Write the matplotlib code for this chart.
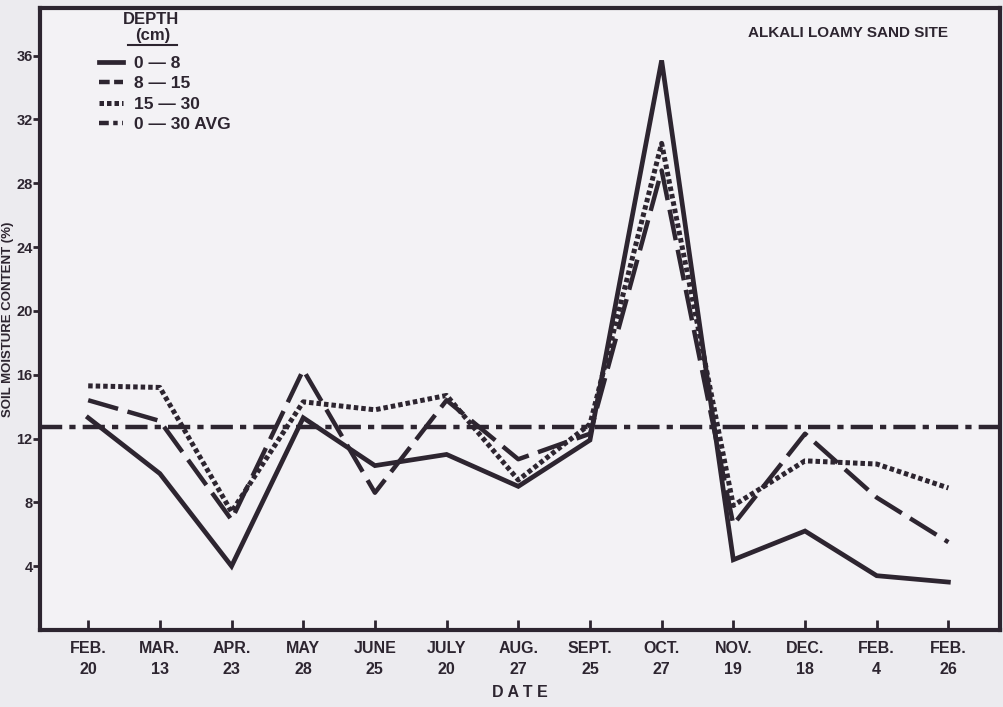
import matplotlib.pyplot as plt
import numpy as np

# sampling dates
dates = ["FEB.\n20", "MAR.\n13", "APR.\n23", "MAY\n28", "JUNE\n25", "JULY\n20", "AUG.\n27",
         "SEPT.\n25", "OCT.\n27", "NOV.\n19", "DEC.\n18", "FEB.\n4", "FEB.\n26"]

# soil moisture content (%) by depth
depth_0_8 = [13.3, 9.8, 4.0, 13.3, 10.3, 11.0, 9.0, 11.9, 35.7, 4.4, 6.2, 3.4, 3.0]
depth_8_15 = [14.4, 13.1, 6.9, 16.3, 8.6, 14.4, 10.7, 12.3, 28.8, 6.6, 12.3, 8.3, 5.5]
depth_15_30 = [15.3, 15.2, 7.4, 14.3, 13.8, 14.7, 9.4, 12.9, 30.5, 7.8, 10.6, 10.4, 8.9]
avg_0_30 = 12.7

ink = '#2d2530'
paper = '#ecebef'


def main():
    plt.rcParams['font.family'] = ['Liberation Sans Narrow', 'Liberation Sans', 'DejaVu Sans']
    plt.rcParams['font.weight'] = 'bold'

    fig = plt.figure(figsize=(10.04, 7.07), dpi=100, facecolor=paper)
    ax = fig.add_axes([0.040, 0.109, 0.956, 0.880], facecolor='#f3f2f5')

    x = np.arange(len(dates))
    ax.plot(x, depth_0_8, color=ink, lw=3.4, solid_joinstyle='miter', label="0 \u2014 8")
    ax.plot(x, depth_8_15, color=ink, lw=3.2, dashes=(7, 2.2), label="8 \u2014 15")
    ax.plot(x, depth_15_30, color=ink, lw=3.6, dashes=(0.9, 0.6), label="15 \u2014 30")
    ax.axhline(avg_0_30, color=ink, lw=3.2, dashes=(5, 1.6, 1.4, 1.6), label="0 \u2014 30 AVG")

    ax.set_xlim(-0.67, 12.72)
    ax.set_ylim(0, 39)
    ax.set_xticks(x)
    ax.set_xticklabels(dates, fontsize=11.5, fontweight='bold', color=ink, linespacing=1.5)
    ax.set_yticks(np.arange(4, 37, 4))
    ax.tick_params(axis='x', direction='in', length=7, width=2, color=ink, pad=8)
    ax.tick_params(axis='y', direction='out', length=5, width=2, color=ink, labelsize=10.5,
                   labelcolor=ink, pad=0.5)
    for s in ax.spines.values():
        s.set_linewidth(3)
        s.set_color(ink)

    ax.set_xlabel("D A T E", fontsize=11.5, fontweight='bold', color=ink, labelpad=6)
    ax.set_ylabel("SOIL MOISTURE CONTENT (%)", fontsize=9.5, fontweight='bold', color=ink)
    ax.yaxis.set_label_coords(-0.027, 0.5)

    ax.text(0.842, 0.960, "ALKALI LOAMY SAND SITE", transform=ax.transAxes, ha='center',
            va='center', fontsize=11, fontweight='bold', color=ink)

    # legend with underlined title
    ax.text(0.116, 0.981, "DEPTH", transform=ax.transAxes, ha='center', va='center',
            fontsize=12, fontweight='bold', color=ink)
    ax.text(0.117, 0.955, "(cm)", transform=ax.transAxes, ha='center', va='center',
            fontsize=12, fontweight='bold', color=ink)
    ax.plot([0.092, 0.143], [0.940, 0.940], transform=ax.transAxes, color=ink, lw=1.5)
    leg = ax.legend(loc='upper left', bbox_to_anchor=(0.045, 0.948), frameon=False,
                    handlelength=1.4, handletextpad=0.6, labelspacing=0.3, fontsize=12.5)
    for t in leg.get_texts():
        t.set_color(ink)
    # shorter dash pattern on the legend keys so the pattern shows
    handles = leg.get_lines()
    handles[1].set_dashes((2.4, 1.0))
    handles[3].set_dashes((2.2, 1.0, 1.0, 1.0))

    fig.savefig("out.png", dpi=100, facecolor=paper)


if __name__ == "__main__":
    main()
